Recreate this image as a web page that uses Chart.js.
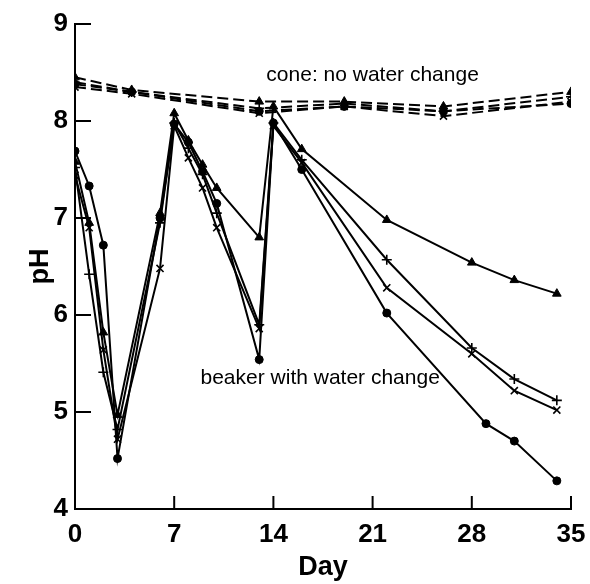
<!DOCTYPE html>
<html>
<head>
<meta charset="utf-8">
<script src="https://cdn.jsdelivr.net/npm/chart.js@4.4.1/dist/chart.umd.min.js"></script>
<style>
  html, body { margin: 0; padding: 0; background: #fff; }
  #wrap { width: 590px; height: 584px; }
</style>
</head>
<body>
<div id="wrap"><canvas id="c" width="590" height="584"></canvas></div>
<script>
// ---- data ----
const beakerDays       = [0, 1, 2, 3, 6, 7, 8, 9, 10, 13, 14, 16, 22, 28, 31, 34];
const beakerDaysCircle = [0, 1, 2, 3, 6, 7, 8, 9, 10, 13, 14, 16, 22, 29, 31, 34];
const beakerTriangle = [7.58, 6.95, 5.82, 4.97, 7.05, 8.08, 7.80, 7.55, 7.31, 6.80, 8.15, 7.71, 6.98, 6.54, 6.36, 6.22];
const beakerPlus     = [7.52, 6.42, 5.41, 4.82, 6.95, 7.98, 7.72, 7.45, 7.05, 5.90, 7.98, 7.60, 6.57, 5.66, 5.34, 5.12];
const beakerCross    = [7.44, 6.90, 5.64, 4.72, 6.48, 7.95, 7.62, 7.31, 6.90, 5.86, 7.95, 7.57, 6.28, 5.60, 5.22, 5.02];
const beakerCircle   = [7.69, 7.33, 6.72, 4.52, 7.00, 7.97, 7.78, 7.48, 7.15, 5.54, 7.98, 7.50, 6.02, 4.88, 4.70, 4.29];

const coneDays     = [0, 4, 13, 19, 26, 35];
const coneTriangle = [8.45, 8.32, 8.20, 8.20, 8.15, 8.30];
const conePlus     = [8.40, 8.30, 8.13, 8.18, 8.10, 8.25];
const coneCross    = [8.35, 8.28, 8.08, 8.15, 8.05, 8.20];
const coneCircle   = [8.38, 8.30, 8.10, 8.15, 8.10, 8.18];

const xTicks = [0, 7, 14, 21, 28, 35];
const yTicks = [4, 5, 6, 7, 8, 9];
const coneLabel = 'cone: no water change';
const beakerLabel = 'beaker with water change';
const coneLabelPos = [21.0, 8.47];
const beakerLabelPos = [17.3, 5.35];

// ---- build datasets ----
function pts(xs, ys) { return xs.map((x, i) => ({ x: x, y: ys[i] })); }
function ds(xs, ys, style, dashed) {
  const filled = style === 'triangle' || style === 'circle';
  return {
    data: pts(xs, ys),
    showLine: true,
    borderColor: '#000',
    backgroundColor: '#000',
    borderWidth: 2,
    borderDash: dashed ? [11, 5] : [],
    pointStyle: style,
    pointRadius: style === 'circle' ? 4 : 5,
    pointBorderWidth: filled ? 1 : 1.6,
    pointBorderColor: '#000',
    pointBackgroundColor: '#000',
    tension: 0
  };
}
const datasets = [
  ds(beakerDays, beakerTriangle, 'triangle', false),
  ds(beakerDays, beakerPlus, 'cross', false),
  ds(beakerDays, beakerCross, 'crossRot', false),
  ds(beakerDaysCircle, beakerCircle, 'circle', false),
  ds(coneDays, coneTriangle, 'triangle', true),
  ds(coneDays, conePlus, 'cross', true),
  ds(coneDays, coneCross, 'crossRot', true),
  ds(coneDays, coneCircle, 'circle', true)
];

const FONT = '"Liberation Sans", Arial, sans-serif';

const decor = {
  id: 'decor',
  afterDraw(chart) {
    const ctx = chart.ctx;
    const xs = chart.scales.x, ys = chart.scales.y;
    const left = chart.chartArea.left, bottom = chart.chartArea.bottom;
    ctx.save();
    ctx.strokeStyle = '#000';
    ctx.lineWidth = 2;
    ctx.setLineDash([]);
    yTicks.forEach(v => {
      const y = ys.getPixelForValue(v);
      ctx.beginPath(); ctx.moveTo(left, y); ctx.lineTo(left + 16, y); ctx.stroke();
    });
    xTicks.forEach(v => {
      const x = xs.getPixelForValue(v);
      ctx.beginPath(); ctx.moveTo(x, bottom); ctx.lineTo(x, bottom - 13); ctx.stroke();
    });
    ctx.fillStyle = '#000';
    ctx.font = '21px ' + FONT;
    ctx.textAlign = 'center';
    ctx.textBaseline = 'middle';
    ctx.fillText(coneLabel, xs.getPixelForValue(coneLabelPos[0]), ys.getPixelForValue(coneLabelPos[1]));
    ctx.fillText(beakerLabel, xs.getPixelForValue(beakerLabelPos[0]), ys.getPixelForValue(beakerLabelPos[1]));
    ctx.restore();
  }
};

const bg = {
  id: 'bg',
  beforeDraw(chart) {
    const ctx = chart.ctx;
    ctx.save(); ctx.fillStyle = '#fff'; ctx.fillRect(0, 0, chart.width, chart.height); ctx.restore();
  }
};

new Chart(document.getElementById('c'), {
  type: 'scatter',
  data: { datasets: datasets },
  options: {
    responsive: false,
    animation: false,
    devicePixelRatio: 1,
    layout: { padding: { top: 24, right: 19, left: 0, bottom: 0 } },
    plugins: { legend: { display: false }, tooltip: { enabled: false } },
    scales: {
      x: {
        type: 'linear', min: 0, max: 35,
        afterBuildTicks(scale) { scale.ticks = xTicks.map(v => ({ value: v })); },
        afterFit(scale) { scale.height = 75; scale.paddingRight = 0; scale.paddingLeft = 0; },
        grid: { display: false, drawTicks: false },
        border: { display: true, color: '#000', width: 2 },
        ticks: { color: '#000', font: { family: FONT, size: 26, weight: 'bold' }, padding: 10, autoSkip: false, maxRotation: 0 },
        title: { display: true, text: 'Day', color: '#000', font: { family: FONT, size: 27, weight: 'bold' }, padding: { top: 0, bottom: 0 } }
      },
      y: {
        type: 'linear', min: 4, max: 9,
        afterBuildTicks(scale) { scale.ticks = yTicks.map(v => ({ value: v })); },
        afterFit(scale) { scale.width = 75; scale.paddingTop = 0; scale.paddingBottom = 0; },
        grid: { display: false, drawTicks: false },
        border: { display: true, color: '#000', width: 2 },
        ticks: { color: '#000', font: { family: FONT, size: 26, weight: 'bold' }, padding: 7 },
        title: { display: true, text: 'pH', color: '#000', font: { family: FONT, size: 27, weight: 'bold' }, padding: { top: 24, bottom: 0 } }
      }
    }
  },
  plugins: [bg, decor]
});
</script>
</body>
</html>
